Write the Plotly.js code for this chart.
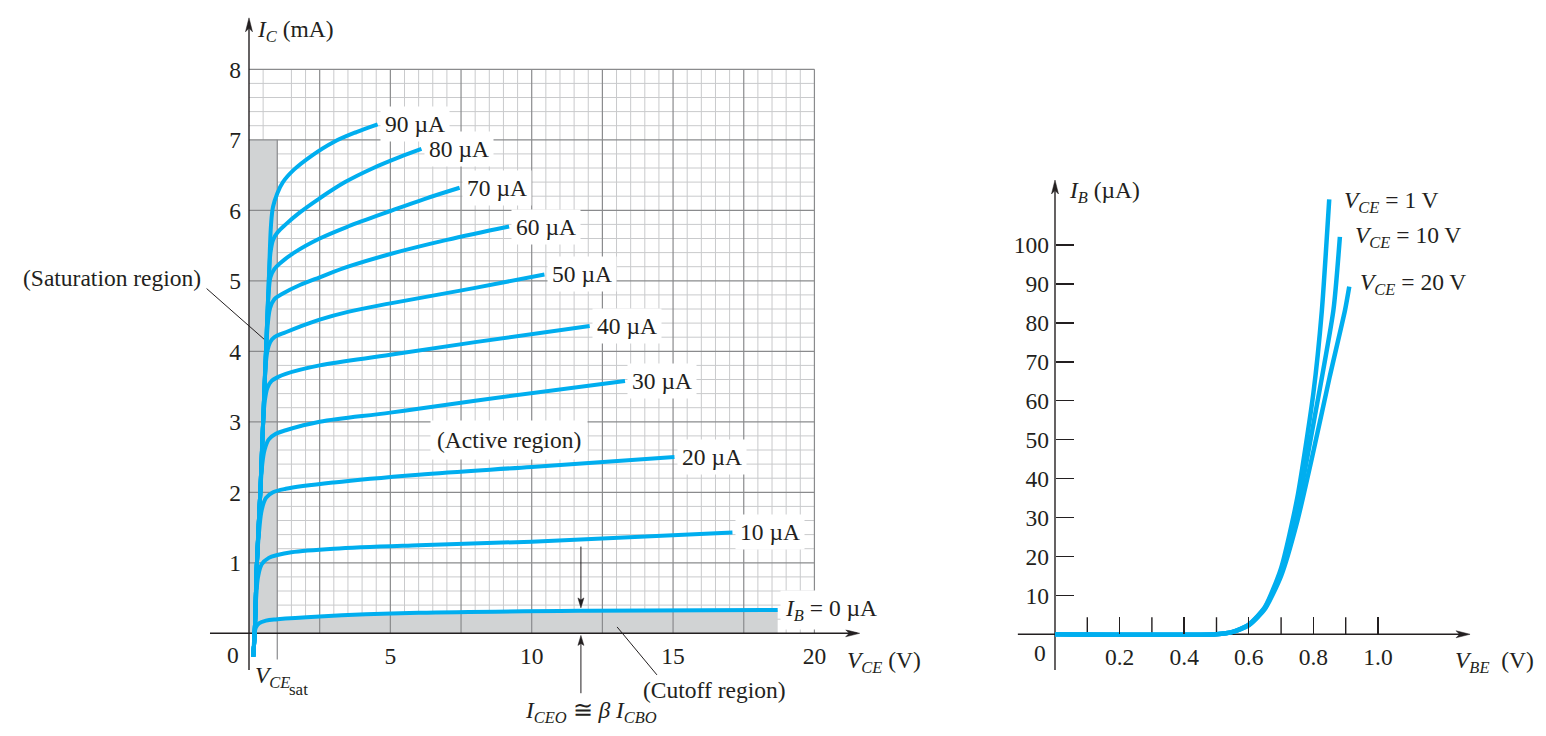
<!DOCTYPE html>
<html><head><meta charset="utf-8">
<script src="https://cdn.plot.ly/plotly-3.0.1.min.js"></script>
<style>html,body{margin:0;padding:0;background:#fff}#chart{width:1546px;height:736px}</style>
</head><body><div id="chart"></div>
<script>
// ---------- Left chart: collector characteristics (IC mA vs VCE V) ----------
const vce0  = [0.15, 0.2, 0.24, 0.35, 0.6, 1.0, 2.5, 6, 12, 18.7];
const ic0   = [-0.33, 0.0, 0.08, 0.14, 0.18, 0.2, 0.24, 0.29, 0.32, 0.33];
const vce10 = [0.15, 0.2, 0.26, 0.32, 0.45, 0.7, 1.0, 1.5, 3, 6, 10, 17.1];
const ic10  = [-0.33, 0.0, 0.55, 0.8, 0.98, 1.07, 1.11, 1.15, 1.2, 1.25, 1.3, 1.43];
const vce20 = [0.15, 0.2, 0.28, 0.37, 0.45, 0.6, 0.85, 1.3, 3, 6, 10, 15.05];
const ic20  = [-0.33, 0.0, 1.0, 1.5, 1.75, 1.92, 2.0, 2.05, 2.14, 2.25, 2.36, 2.5];
const vce30 = [0.15, 0.2, 0.28, 0.4, 0.47, 0.55, 0.7, 0.95, 1.3, 2.5, 5, 8, 13.3];
const ic30  = [-0.33, 0.0, 1.0, 2.0, 2.4, 2.6, 2.75, 2.83, 2.88, 3.0, 3.13, 3.3, 3.58];
const vce40 = [0.15, 0.2, 0.28, 0.4, 0.5, 0.56, 0.65, 0.8, 1.0, 1.3, 2.5, 5, 8, 12.05];
const ic40  = [-0.33, 0.0, 1.0, 2.0, 3.0, 3.3, 3.48, 3.58, 3.63, 3.68, 3.8, 3.95, 4.13, 4.36];
const vce50 = [0.15, 0.2, 0.28, 0.4, 0.5, 0.6, 0.66, 0.75, 0.9, 1.3, 1.8, 2.5, 3.5, 5, 8, 10.45];
const ic50  = [-0.33, 0.0, 1.0, 2.0, 3.0, 3.85, 4.02, 4.13, 4.2, 4.27, 4.35, 4.45, 4.56, 4.68, 4.9, 5.09];
const vce60 = [0.15, 0.2, 0.28, 0.4, 0.5, 0.6, 0.68, 0.75, 0.9, 1.2, 1.8, 2.5, 3.5, 5, 7, 9.2];
const ic60  = [-0.33, 0.0, 1.0, 2.0, 3.0, 4.0, 4.45, 4.62, 4.74, 4.82, 4.94, 5.05, 5.2, 5.38, 5.58, 5.77];
const vce70 = [0.15, 0.2, 0.28, 0.4, 0.5, 0.6, 0.7, 0.76, 0.9, 1.1, 1.6, 2.5, 3.5, 5, 6.2, 7.45];
const ic70  = [-0.33, 0.0, 1.0, 2.0, 3.0, 4.0, 4.85, 5.05, 5.17, 5.25, 5.4, 5.6, 5.77, 5.99, 6.16, 6.32];
const vce80 = [0.15, 0.2, 0.28, 0.4, 0.5, 0.6, 0.7, 0.76, 0.85, 1.0, 1.3, 1.8, 2.5, 3.4, 4.4, 5.3, 6.1];
const ic80  = [-0.33, 0.0, 1.0, 2.0, 3.0, 4.0, 5.0, 5.4, 5.58, 5.68, 5.8, 5.97, 6.17, 6.4, 6.6, 6.75, 6.87];
const vce90 = [0.15, 0.2, 0.28, 0.4, 0.5, 0.6, 0.7, 0.78, 0.85, 1.0, 1.2, 1.6, 2.2, 3.0, 3.8, 4.55];
const ic90  = [-0.33, 0.0, 1.0, 2.0, 3.0, 4.0, 5.0, 5.8, 6.05, 6.24, 6.4, 6.58, 6.77, 6.97, 7.11, 7.22];
const ibLabels = ['<i>I<sub>B</sub></i> = 0 µA', '10 µA', '20 µA', '30 µA', '40 µA',
                  '50 µA', '60 µA', '70 µA', '80 µA', '90 µA'];
const leftXTicks = [5, 10, 15, 20];
const leftYTicks = [1, 2, 3, 4, 5, 6, 7, 8];

// ---------- Right chart: input characteristics (IB µA vs VBE V) ----------
const vbe1  = [0, 0.5, 0.55, 0.6, 0.65, 0.7, 0.75, 0.8, 0.826, 0.849];
const ib1   = [0, 0, 0.6, 2.5, 7, 17, 35, 62, 83, 111.7];
const vbe10 = [0, 0.5, 0.55, 0.6, 0.65, 0.7, 0.75, 0.8, 0.862, 0.882];
const ib10  = [0, 0, 0.6, 2.4, 6.8, 16, 32, 54, 83.3, 102.1];
const vbe20 = [0, 0.5, 0.55, 0.6, 0.65, 0.7, 0.75, 0.8, 0.85, 0.898, 0.911];
const ib20  = [0, 0, 0.6, 2.3, 6.5, 15, 29, 47, 66, 83.3, 89.3];
const vceLabels = ['<i>V<sub>CE</sub></i> = 1 V', '<i>V<sub>CE</sub></i> = 10 V', '<i>V<sub>CE</sub></i> = 20 V'];
const rightXTicks = [0.1, 0.2, 0.3, 0.4, 0.5, 0.6, 0.7, 0.8, 0.9, 1.0];
const rightXLabels = ['', '0.2', '', '0.4', '', '0.6', '', '0.8', '', '1.0'];
const rightYTicks = [10, 20, 30, 40, 50, 60, 70, 80, 90, 100];

// ---------- styling ----------
const blue = '#00aeef';
const ink = '#231f20';
const fam = 'Liberation Serif, Times New Roman, serif';
const FS = 23.5;
const font = (s) => ({family: fam, size: s || FS, color: ink});

const icV = [vce0, vce10, vce20, vce30, vce40, vce50, vce60, vce70, vce80, vce90];
const icI = [ic0, ic10, ic20, ic30, ic40, ic50, ic60, ic70, ic80, ic90];

const traces = [];
icV.forEach((v, k) => {
  traces.push({x: v, y: icI[k], xaxis: 'x', yaxis: 'y', mode: 'lines', type: 'scatter',
    line: {color: blue, width: 4, shape: 'spline', smoothing: 1},
    hoverinfo: 'skip', showlegend: false, cliponaxis: false});
});
[[vbe1, ib1], [vbe10, ib10], [vbe20, ib20]].forEach(([v, i]) => {
  traces.push({x: v, y: i, xaxis: 'x2', yaxis: 'y2', mode: 'lines', type: 'scatter',
    line: {color: blue, width: 4.5, shape: 'spline', smoothing: 0.6},
    hoverinfo: 'skip', showlegend: false, cliponaxis: false});
});

// ---------- shapes ----------
const shapes = [];
const L = (x0, y0, x1, y1, color, width, xr, yr) => ({type: 'line', xref: xr || 'x', yref: yr || 'y',
  x0, y0, x1, y1, line: {color, width}, layer: 'below'});
const minorC = '#c9cacc', majorC = '#8a8b8d';
for (let k = 1; k < 40; k++) { if (k % 5 !== 0 && k !== 2) shapes.push(L(k * 0.5, 0, k * 0.5, 8, minorC, 1)); }
for (let k = 1; k < 40; k++) { if (k % 5 !== 0) shapes.push(L(0, k * 0.2, 20, k * 0.2, minorC, 1)); }
// saturation region
shapes.push({type: 'rect', xref: 'x', yref: 'y', x0: 0, x1: 1, y0: 0, y1: 7,
  fillcolor: '#d1d3d4', line: {width: 0}, layer: 'below'});
// cutoff region under IB = 0 curve
let p = '';
vce0.forEach((v, k) => { if (ic0[k] >= 0) p += (p ? ' L' : 'M') + v + ',' + ic0[k]; });
p += ' L' + vce0[vce0.length - 1] + ',0 Z';
shapes.push({type: 'path', xref: 'x', yref: 'y', path: p, fillcolor: '#d1d3d4', line: {width: 0}, layer: 'below'});
// major grid
for (let k = 1; k <= 8; k++) shapes.push(L(k * 2.5, 0, k * 2.5, 8, majorC, 1.2));
for (let k = 1; k <= 8; k++) shapes.push(L(0, k, 20, k, majorC, 1.2));
shapes.push(L(1, -0.37, 1, 7, majorC, 1.2));
// left axes
shapes.push(L(-1.38, 0, 21.5, 0, ink, 1.4));
shapes.push(L(0, -0.52, 0, 8.65, ink, 1.4));
// ICEO arrows shafts
shapes.push(L(11.74, 1.23, 11.74, 0.45, ink, 1));
shapes.push(L(11.74, -0.85, 11.74, -0.1, ink, 1));
// leader lines
shapes.push(L(-1.5, 4.89, 0.566, 4.16, ink, 1));
shapes.push(L(13.02, 0.09, 14.43, -0.59, ink, 1));
// right axes
shapes.push(L(-0.115, 0, 1.26, 0, ink, 1.4, 'x2', 'y2'));
shapes.push(L(0, -9.2, 0, 114, ink, 1.4, 'x2', 'y2'));
// unlabelled right-axis ticks (labelled ones come from the axis)
rightXTicks.forEach((t, k) => {
  if (!rightXLabels[k]) shapes.push({type: 'line', xref: 'x2', yref: 'y2', ysizemode: 'pixel', yanchor: 0,
    x0: t, x1: t, y0: 0, y1: 17, line: {color: ink, width: 1.4}, layer: 'below'});
});

const head = (xr, yr, x, y, path) => ({type: 'path', xref: xr, yref: yr, xsizemode: 'pixel', ysizemode: 'pixel',
  xanchor: x, yanchor: y, path, fillcolor: ink, line: {color: ink, width: 0.5}, layer: 'above'});
const right = 'M0,0 L-14,3.5 L-10.5,0 L-14,-3.5 Z';
const up = 'M0,0 L3.5,-14 L0,-10.5 L-3.5,-14 Z';
shapes.push(head('x', 'y', 21.6, 0, right));
shapes.push(head('x', 'y', 0, 8.73, up));
shapes.push(head('x2', 'y2', 1.285, 0, right));
shapes.push(head('x2', 'y2', 0, 116.7, up));
shapes.push(head('x', 'y', 11.74, 0.36, 'M0,0 L3,10 L0,8 L-3,10 Z'));
shapes.push(head('x', 'y', 11.74, -0.03, 'M0,0 L3,-10 L0,-8 L-3,-10 Z'));

// ---------- annotations ----------
const ann = [];
const A = (o) => Object.assign({xref: 'x', yref: 'y', showarrow: false, font: font(), xanchor: 'center', yanchor: 'middle'}, o);
icV.forEach((v, k) => {
  ann.push(A({x: v[v.length - 1] + 0.08, y: icI[k][icI[k].length - 1], text: ibLabels[k],
    xanchor: 'left', bgcolor: 'white', borderpad: 4}));
});
ann.push(A({x: 0.21, y: 8.55, text: '<i>I<sub>C</sub></i> (mA)', xanchor: 'left'}));
ann.push(A({x: 21.08, y: -0.4, text: '<i>V<sub>CE</sub></i> (V)', xanchor: 'left'}));
ann.push(A({x: 0.13, y: -0.62, text: '<i>V<sub>CE</sub></i>', xanchor: 'left'}));
ann.push(A({x: 1.34, y: -0.8, text: 'sat', xanchor: 'left', font: font(17)}));
ann.push(A({x: -0.57, y: -0.31, text: '0'}));
ann.push(A({x: -4.85, y: 5.04, text: '(Saturation region)'}));
ann.push(A({x: 9.21, y: 2.74, text: '(Active region)', bgcolor: 'white', borderpad: 6}));
ann.push(A({x: 16.48, y: -0.8, text: '(Cutoff region)'}));
ann.push(A({x: 12.08, y: -1.12, text: '<i>I<sub>CEO</sub></i> ≅ <i>β I<sub>CBO</sub></i>'}));

const vceLabelPos = [[0.888, 111], [0.923, 102], [0.938, 90]];
vceLabels.forEach((t, k) => ann.push(A({xref: 'x2', yref: 'y2', x: vceLabelPos[k][0], y: vceLabelPos[k][1], text: t, xanchor: 'left'})));
ann.push(A({xref: 'x2', yref: 'y2', x: 0.037, y: 113.5, text: '<i>I<sub>B</sub></i> (µA)', xanchor: 'left'}));
ann.push(A({xref: 'x2', yref: 'y2', x: 1.231, y: -7, text: '<i>V<sub>BE</sub></i>\u00a0 (V)', xanchor: 'left'}));
ann.push(A({xref: 'x2', yref: 'y2', x: -0.046, y: -4.9, text: '0'}));

const labelledX = rightXTicks.filter((t, k) => rightXLabels[k]);
const labelledXText = rightXLabels.filter(s => s);

const layout = {
  width: 1546, height: 736, margin: {l: 0, r: 0, t: 0, b: 0},
  paper_bgcolor: 'white', plot_bgcolor: 'rgba(0,0,0,0)', showlegend: false,
  xaxis: {domain: [0.005627, 0.57251], range: [-8.5, 22.5], anchor: 'free', position: 0.13954,
    showgrid: false, zeroline: false, showline: false, ticks: '', tickmode: 'array',
    tickvals: leftXTicks, ticktext: leftXTicks.map(String), tickfont: font(), ticklabelstandoff: 6, fixedrange: true},
  yaxis: {domain: [0.005435, 0.99205], range: [-1.4, 8.9], anchor: 'free', position: 0.16106,
    showgrid: false, zeroline: false, showline: false, ticks: '', tickmode: 'array',
    tickvals: leftYTicks, ticktext: leftYTicks.map(String), tickfont: font(), ticklabelstandoff: 8, fixedrange: true},
  xaxis2: {domain: [0.64062, 0.99580], range: [-0.2, 1.5], anchor: 'free', position: 0.13818,
    showgrid: false, zeroline: false, showline: false, ticks: 'inside', ticklen: 17, tickwidth: 1.4, tickcolor: ink,
    tickmode: 'array', tickvals: labelledX, ticktext: labelledXText, tickfont: font(), ticklabelstandoff: 6, fixedrange: true},
  yaxis2: {domain: [0.00598, 0.79932], range: [-25, 125], anchor: 'free', position: 0.68241,
    showgrid: false, zeroline: false, showline: false, ticks: 'inside', ticklen: 18, tickwidth: 1.4, tickcolor: ink,
    tickmode: 'array', tickvals: rightYTicks, ticktext: rightYTicks.map(String), tickfont: font(), ticklabelstandoff: 6, fixedrange: true},
  shapes, annotations: ann
};
Plotly.newPlot('chart', traces, layout, {displayModeBar: false, staticPlot: true});
</script></body></html>
